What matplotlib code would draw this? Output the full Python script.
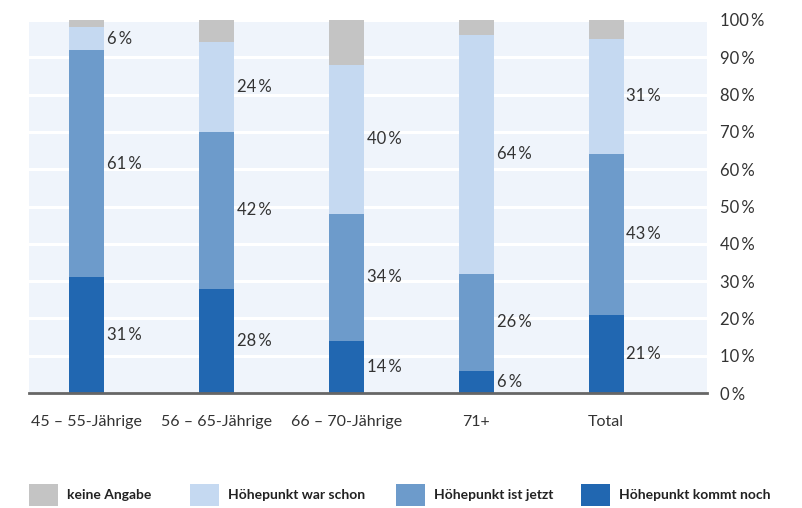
import matplotlib
matplotlib.use("Agg")
import matplotlib.pyplot as plt
import numpy as np
from matplotlib.patches import Rectangle

categories = ["45 – 55-Jährige", "56 – 65-Jährige", "66 – 70-Jährige", "71+", "Total"]
kommt_noch = [31, 28, 14, 6, 21]
ist_jetzt = [61, 42, 34, 26, 43]
war_schon = [6, 24, 40, 64, 31]
keine_angabe = [2, 6, 12, 4, 5]

series = [
    ("Höhepunkt kommt noch", kommt_noch, "#2167B1"),
    ("Höhepunkt ist jetzt", ist_jetzt, "#6D9BCB"),
    ("Höhepunkt war schon", war_schon, "#C5D9F1"),
    ("keine Angabe", keine_angabe, "#C4C4C4"),
]
labeled = {"Höhepunkt kommt noch", "Höhepunkt ist jetzt", "Höhepunkt war schon"}

plt.rcParams['font.family'] = ['Lato', 'DejaVu Sans']

fig = plt.figure(figsize=(8.02, 5.08), dpi=100)
ax = fig.add_axes([29/802, 1-393/508, (707-29)/802, (393-20)/508])
ax.set_facecolor("#EFF4FB")

x = np.arange(len(categories))
width = 0.27
bottom = np.zeros(len(categories))
for name, vals, color in series:
    vals = np.array(vals, dtype=float)
    ax.bar(x, vals, width, bottom=bottom, color=color, zorder=3, linewidth=0)
    if name in labeled:
        for xi, b, v in zip(x, bottom, vals):
            ax.annotate(f"{int(v)}\u2009%", (xi + width/2, b + v/2), xytext=(2, 0),
                        textcoords="offset points", ha="left", va="center",
                        fontsize=12, color="#333333", zorder=4)
    bottom += vals

ax.set_xlim(-58/130, 4 + 101/130)
ax.set_ylim(0, 100)
ax.set_yticks(np.arange(0, 101, 10))
ax.set_yticklabels([f"{v}\u2009%" for v in range(0, 101, 10)])
ax.yaxis.tick_right()
ax.tick_params(axis="y", length=0, pad=9, labelsize=12, labelcolor="#333333")
ax.set_xticks(x)
ax.set_xticklabels(categories)
ax.tick_params(axis="x", length=0, pad=16, labelsize=11.5, labelcolor="#333333")
ax.grid(axis="y", color="white", linewidth=2.2, zorder=1)
ax.set_axisbelow(True)
for s in ["top", "right", "left"]:
    ax.spines[s].set_visible(False)
ax.spines["bottom"].set_color("#666666")
ax.spines["bottom"].set_linewidth(2)
ax.spines["bottom"].set_zorder(5)

# legend
leg_items = [("keine Angabe", "#C4C4C4", 29), ("Höhepunkt war schon", "#C5D9F1", 190),
             ("Höhepunkt ist jetzt", "#6D9BCB", 396), ("Höhepunkt kommt noch", "#2167B1", 581)]
for label, color, px in leg_items:
    fig.patches.append(Rectangle((px/802, 1-506/508), 29/802, 22/508, transform=fig.transFigure,
                                 facecolor=color, edgecolor="none"))
    fig.text((px+38)/802, 1-495/508, label, ha="left", va="center", fontsize=10,
             fontweight="bold", color="#222222")

fig.savefig("out.png", dpi=100)
